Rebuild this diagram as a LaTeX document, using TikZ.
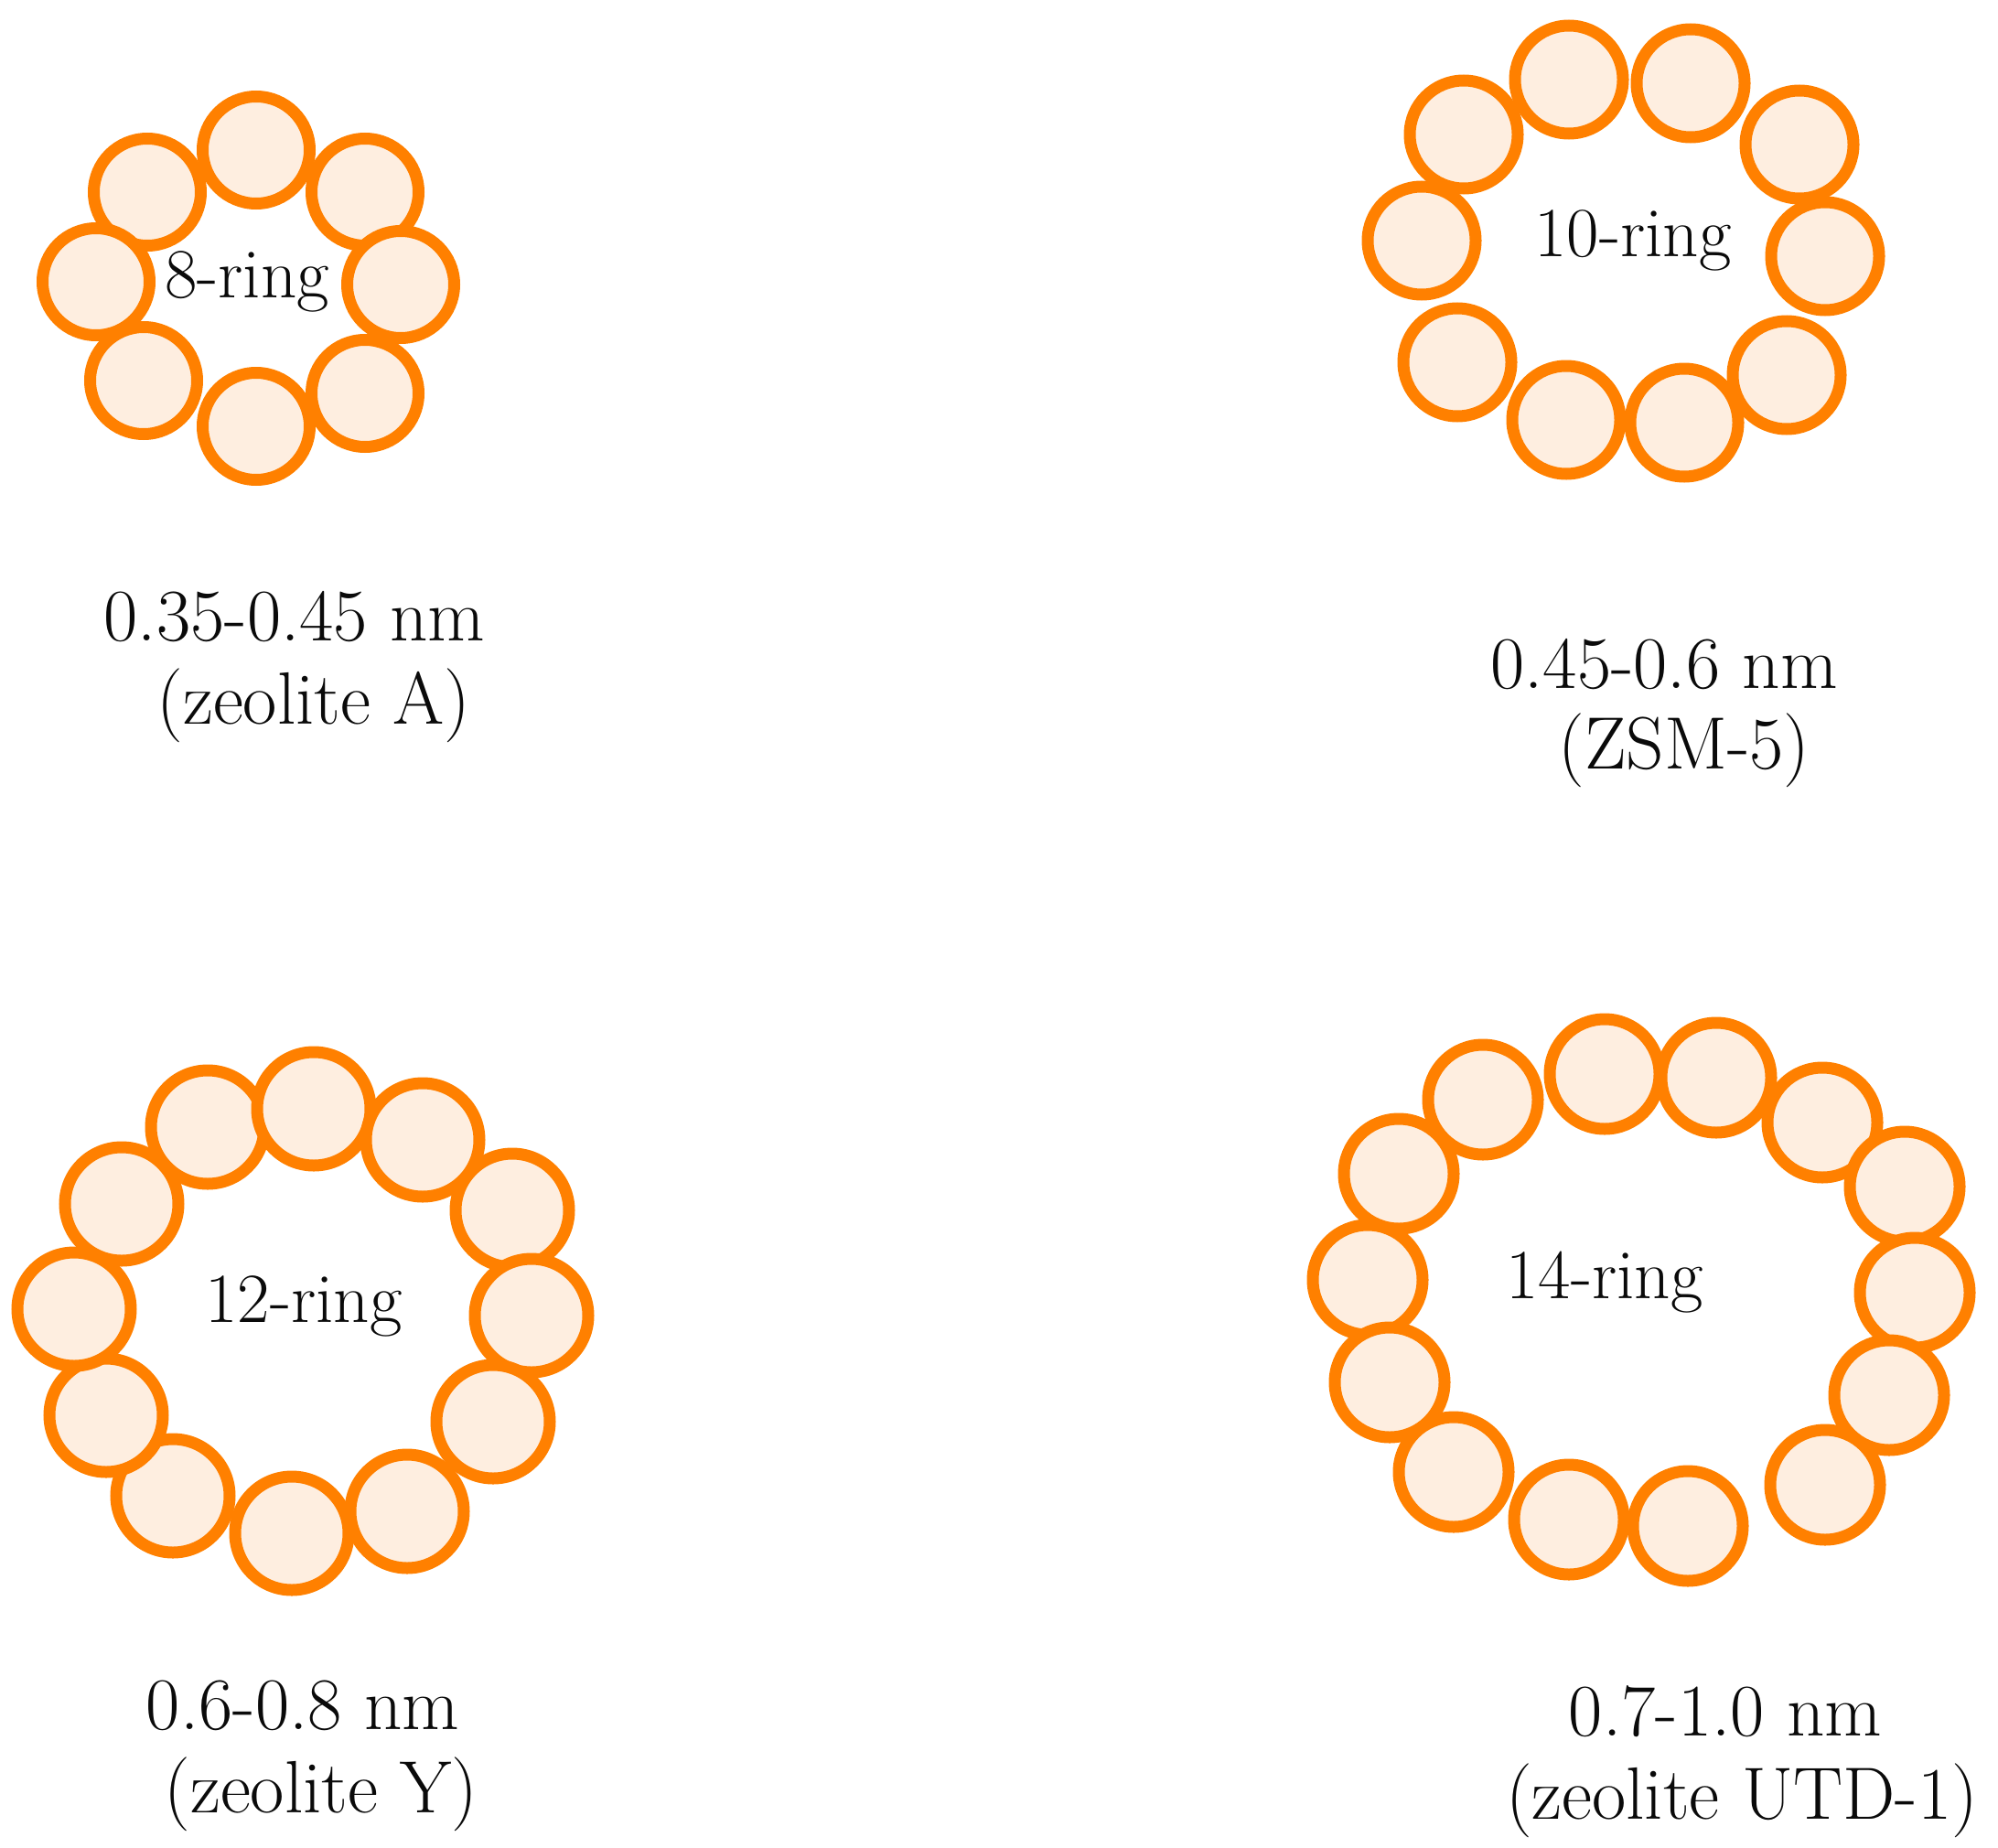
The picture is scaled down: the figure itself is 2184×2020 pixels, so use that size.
\documentclass[tikz,border=0pt]{standalone}
\usepackage{fontspec}
\definecolor{ringorange}{RGB}{255,128,0}
\definecolor{ringfill}{RGB}{254,238,224}
\definecolor{txt}{RGB}{10,10,10}
\begin{document}
\begin{tikzpicture}[x=1pt,y=-1pt,
  atom/.style={circle,draw=ringorange,fill=ringfill,line width=13pt,inner sep=0pt,minimum size=#1},
  atom/.default=118pt,
  ringlabel/.style={text=txt,inner sep=0pt,font=\fontsize{77}{92}\selectfont},
  sizelabel/.style={text=txt,inner sep=0pt,anchor=base,font=\fontsize{81}{97}\selectfont}]
\useasboundingbox (0,0) rectangle (2184,2020);
% 8-ring
\foreach \n/\x/\y in {b/161/210,a/280/164,c/399/210,d/105/308,e/438/311,f/157/416,h/399/430,g/280/466}
  \node[atom=117pt] (r8\n) at (\x,\y) {};
\node[ringlabel] (t8) at (270,308) {8-ring};
% 10-ring
\foreach \n/\x/\y in {a/1715/87,b/1848/91,c/1600/147,d/1967/158,e/1554/263,f/1995/280,g/1593/396,h/1953/410,i/1712/459,j/1841/462}
  \node[atom=118pt] (r10\n) at (\x,\y) {};
\node[ringlabel] (t10) at (1785,263) {10-ring};
% 12-ring
\foreach \n/\x/\y in {l/227/1232,a/343/1212,b/462/1246,c/560/1323,d/581/1438,e/539/1554,f/445/1652,g/319/1676,h/189/1635,i/116/1547,k/133/1316,j/81/1431}
  \node[atom=124pt] (r12\n) at (\x,\y) {};
\node[ringlabel] (t12) at (332,1428) {12-ring};
% 14-ring
\foreach \n/\x/\y in {a/1754/1174,b/1876/1178,c/1621/1202,d/1992/1227,e/1529/1283,f/2082/1297,g/1495/1399,h/2093/1413,i/1519/1511,j/2065/1525,k/1589/1609,l/1995/1623,m/1715/1661,n/1845/1668}
  \node[atom=120pt] (r14\n) at (\x,\y) {};
\node[ringlabel] (t14) at (1754,1402) {14-ring};
% size labels
\node[sizelabel] (s8a) at (322,700) {0.35-0.45 nm};
\node[sizelabel] (s8b) at (343,791) {(zeolite A)};
\node[sizelabel] (s10a) at (1819,752) {0.45-0.6 nm};
\node[sizelabel] (s10b) at (1841,840) {(ZSM-5)};
\node[sizelabel] (s12a) at (331,1890) {0.6-0.8 nm};
\node[sizelabel] (s12b) at (351,1981) {(zeolite Y)};
\node[sizelabel] (s14a) at (1886,1897) {0.7-1.0 nm};
\node[sizelabel] (s14b) at (1904,1988) {(zeolite UTD-1)};
\end{tikzpicture}
\end{document}
